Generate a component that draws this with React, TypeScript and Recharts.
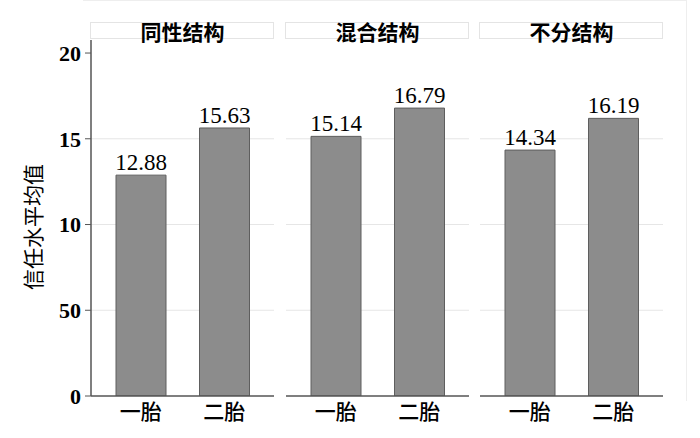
import React from "react";
import { BarChart, Bar, XAxis, YAxis, CartesianGrid, LabelList } from "recharts";

const categories = ["一胎", "二胎"];
const panelTitles = ["同性结构", "混合结构", "不分结构"];
const sameSexValues = [12.88, 15.63];
const mixedValues = [15.14, 16.79];
const noSplitValues = [14.34, 16.19];
const yTicks = [0, 5, 10, 15, 20];
const yTickLabels = ["0", "50", "10", "15", "20"];
const gridValues = [5, 10, 15];
const yLabel = "信任水平均值";

const panelValues = [sameSexValues, mixedValues, noSplitValues];

const CJK = '"Noto Sans CJK SC", sans-serif';
const SERIF = '"Liberation Serif", "Times New Roman", serif';
const DOMAIN: [number, number] = [0, 20.76];
const PANEL_LEFTS = [91, 286, 480];
const PANEL_W = 183;
const Y_AXIS_W = 91;

function Panel({ index }: { index: number }) {
  const data = categories.map((c, i) => ({ name: c, value: panelValues[index][i] }));
  const first = index === 0;
  const width = first ? PANEL_W + Y_AXIS_W : PANEL_W;
  const left = first ? 0 : PANEL_LEFTS[index];
  return (
    <div style={{ position: "absolute", left, top: 0 }}>
      <BarChart
        width={width}
        height={438}
        data={data}
        margin={{ top: 40, right: 0, bottom: 12, left: 0 }}
        barSize={50}
      >
        <CartesianGrid
          vertical={false}
          stroke="#e6e6e6"
          horizontalValues={gridValues}
        />
        <XAxis
          dataKey="name"
          height={30}
          padding={{ left: 8, right: 8 }}
          tickLine={false}
          axisLine={{ stroke: "#555", strokeWidth: 1.5 }}
          tick={{ fill: "#000", fontSize: 21, fontFamily: CJK, fontWeight: 500 }}
          tickMargin={2}
          interval={0}
        />
        <YAxis
          hide={!first}
          width={Y_AXIS_W}
          domain={DOMAIN}
          ticks={yTicks}
          allowDataOverflow
          tickFormatter={(v: number) => yTickLabels[yTicks.indexOf(v)] ?? String(v)}
          tick={{ fill: "#000", fontSize: 22, fontFamily: SERIF, fontWeight: 700 }}
          tickLine={{ stroke: "#555" }}
          tickSize={6}
          tickMargin={4}
          axisLine={{ stroke: "#555", strokeWidth: 1.5 }}
        />
        <Bar dataKey="value" fill="#8c8c8c" stroke="#5e5e5e" strokeWidth={1} isAnimationActive={false}>
          <LabelList
            dataKey="value"
            position="top"
            offset={5}
            formatter={(v: number) => v.toFixed(2)}
            style={{ fill: "#000", fontSize: 23, fontFamily: SERIF }}
          />
        </Bar>
      </BarChart>
    </div>
  );
}

export default function App() {
  return (
    <div
      style={{
        position: "absolute",
        left: 0,
        top: 0,
        width: 700,
        height: 438,
        background: "#fff",
        overflow: "hidden",
      }}
    >
      <div
        style={{
          position: "absolute",
          left: 83,
          top: 0,
          width: 603,
          height: 400,
          borderTop: "1px solid #eeeeee",
          borderRight: "1px solid #eeeeee",
        }}
      />
      {panelTitles.map((t, i) => (
        <div
          key={t}
          style={{
            position: "absolute",
            left: PANEL_LEFTS[i] - 1,
            top: 22,
            width: PANEL_W + 1,
            height: 17,
            border: "1px solid #e4e4e4",
            boxSizing: "border-box",
          }}
        />
      ))}
      {panelTitles.map((t, i) => (
        <div
          key={t + "-text"}
          style={{
            position: "absolute",
            left: PANEL_LEFTS[i],
            top: 19,
            width: PANEL_W,
            height: 24,
            lineHeight: "24px",
            textAlign: "center",
            fontFamily: CJK,
            fontSize: 21,
            fontWeight: 700,
            color: "#000",
          }}
        >
          {t}
        </div>
      ))}
      {panelTitles.map((_, i) => (
        <Panel key={i} index={i} />
      ))}
      <div
        style={{
          position: "absolute",
          left: 32,
          top: 227,
          width: 200,
          height: 26,
          lineHeight: "26px",
          textAlign: "center",
          fontFamily: CJK,
          fontSize: 21,
          color: "#000",
          transform: "translate(-50%, -50%) rotate(-90deg)",
        }}
      >
        {yLabel}
      </div>
    </div>
  );
}
